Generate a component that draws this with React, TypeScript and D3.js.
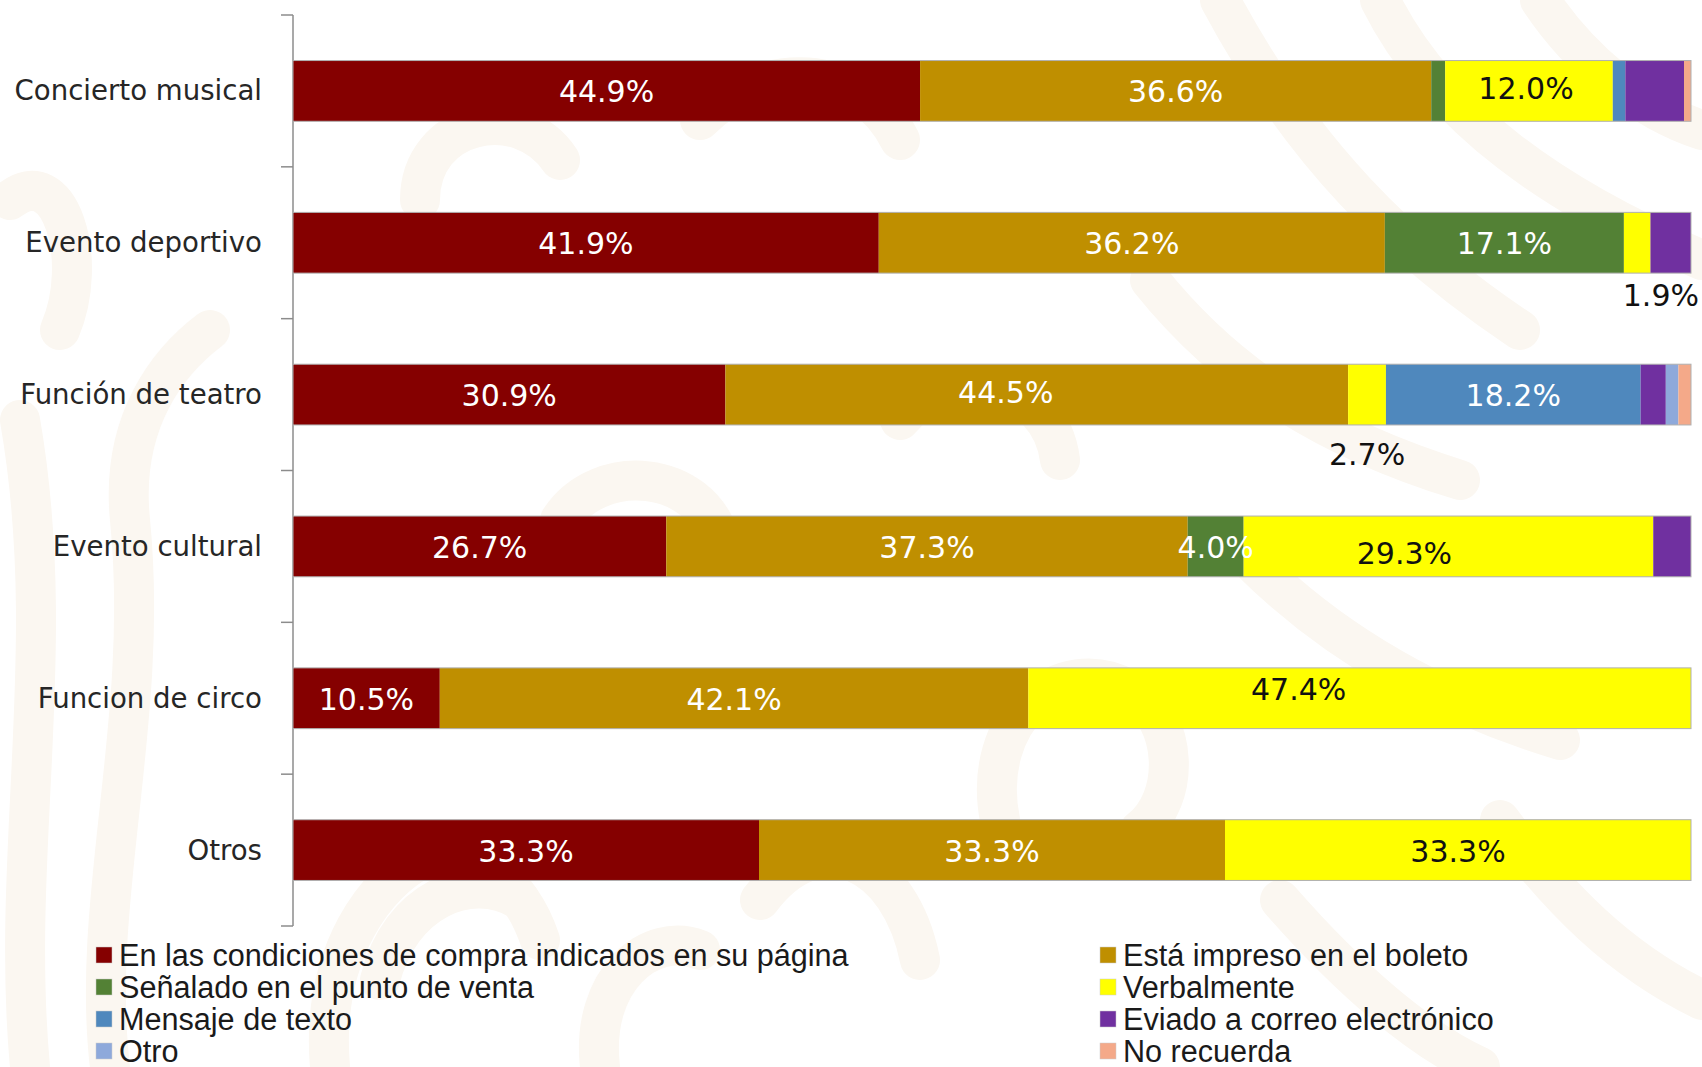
import React from 'react';
import * as d3 from 'd3';

const categories = [
  'Concierto musical',
  'Evento deportivo',
  'Función de teatro',
  'Evento cultural',
  'Funcion de circo',
  'Otros',
];
const seriesNames = [
  'En las condiciones de compra indicados en su página',
  'Está impreso en el boleto',
  'Señalado en el punto de venta',
  'Verbalmente',
  'Mensaje de texto',
  'Eviado a correo electrónico',
  'Otro',
  'No recuerda',
];
const seriesColors = ['#850000', '#BF8F00', '#538135', '#FFFF00', '#4F88BD', '#7030A0', '#8EA9DB', '#F4A989'];
const condiciones = [44.9, 41.9, 30.9, 26.7, 10.5, 33.3];
const impreso = [36.6, 36.2, 44.5, 37.3, 42.1, 33.3];
const puntoVenta = [1.0, 17.1, 0, 4.0, 0, 0];
const verbalmente = [12.0, 1.9, 2.7, 29.3, 47.4, 33.3];
const mensaje = [0.9, 0, 18.2, 0, 0, 0];
const correo = [4.2, 2.9, 1.8, 2.7, 0, 0];
const otro = [0, 0, 0.9, 0, 0, 0];
const noRecuerda = [0.5, 0, 0.9, 0, 0, 0];
const seriesValues = [condiciones, impreso, puntoVenta, verbalmente, mensaje, correo, otro, noRecuerda];

// which series get an in-bar label for each category
const insideLabelSeries = [[0, 1, 3], [0, 1, 2], [0, 1, 4], [0, 1, 2, 3], [0, 1, 3], [0, 1, 3]];
// labels drawn below the bar: [categoryIndex, seriesIndex]
const outsideLabels = [[1, 3], [2, 3]];
// manually moved labels in the original (category-series -> [dx, dy] px)
const labelNudge: Record<string, [number, number]> = {
  '0-3': [-3, -3],
  '2-1': [-31, -3],
  '3-3': [-44, 6],
  '4-3': [-61, -10],
};

const W = 1702;
const H = 1067;
const plot = { left: 293, right: 1691, top: 15, bottom: 926 };

const watermark = [
  'M 30 1067 C 10 850, 60 650, 20 420',
  'M 110 1067 C 90 900, 150 720, 130 520 C 120 420, 170 360, 210 330',
  'M 330 1067 C 320 950, 380 880, 420 860 C 470 840, 520 880, 540 940',
  'M 380 980 C 400 900, 470 870, 520 900',
  'M 600 1067 C 590 980, 650 930, 700 950',
  'M 760 900 C 820 820, 900 860, 920 960',
  'M 1000 820 C 980 720, 1060 650, 1130 690 C 1180 720, 1180 800, 1140 830',
  'M 1220 0 C 1300 150, 1400 250, 1520 330',
  'M 1380 0 C 1440 120, 1560 200, 1702 260',
  'M 1540 0 C 1580 60, 1640 110, 1702 130',
  'M 1150 280 C 1230 380, 1330 440, 1460 480',
  'M 1250 560 C 1330 640, 1430 700, 1560 740',
  'M 1500 820 C 1560 900, 1620 960, 1702 1000',
  'M 1280 900 C 1350 980, 1420 1040, 1480 1067',
  'M 700 120 C 760 60, 860 60, 900 140',
  'M 420 200 C 420 120, 520 100, 560 160',
  'M 10 200 C 60 160, 90 260, 60 330',
  'M 900 420 C 950 360, 1050 380, 1060 460',
  'M 560 520 C 600 460, 700 470, 720 540',
];

export default function App() {
  const rows = categories.map((c, i) => {
    const r: any = { cat: c };
    seriesNames.forEach((s, j) => (r[s] = seriesValues[j][i]));
    return r;
  });
  const stack = d3.stack<any>().keys(seriesNames).offset(d3.stackOffsetExpand)(rows);
  const x = d3.scaleLinear().domain([0, 1]).range([plot.left, plot.right]);
  const y = d3.scaleBand<string>().domain(categories).range([plot.top, plot.bottom]).paddingInner(0.6).paddingOuter(0.3);
  const step = y.step();
  const bw = y.bandwidth();
  const fmt = (v: number) => d3.format('.1f')(v) + '%';
  const labelFont = '"DejaVu Sans", Verdana, sans-serif';
  const legendFont = '"Liberation Sans Narrow", "Liberation Sans", Arial, sans-serif';
  const boundaries = d3.range(categories.length + 1).map((i) => plot.top + i * step);

  return (
    <svg width={W} height={H} style={{ position: 'absolute', left: 0, top: 0, background: '#fff' }}>
      <rect x={0} y={0} width={W} height={H} fill="#ffffff" />
      <g fill="none" stroke="#fbf7f1" strokeWidth={40} strokeLinecap="round">
        {watermark.map((d, i) => (
          <path key={i} d={d} />
        ))}
      </g>
      {/* axis */}
      <line x1={plot.left} x2={plot.left} y1={plot.top} y2={plot.bottom} stroke="#8c8c8c" strokeWidth={1.5} />
      {boundaries.map((b, i) => (
        <line key={i} x1={plot.left - 12} x2={plot.left} y1={b} y2={b} stroke="#8c8c8c" strokeWidth={1.5} />
      ))}
      {categories.map((c) => (
        <text
          key={c}
          x={plot.left - 31}
          y={(y(c) as number) + bw / 2}
          textAnchor="end"
          dominantBaseline="central"
          fontFamily={labelFont}
          fontSize={27.6}
          fill="#262626"
        >
          {c}
        </text>
      ))}
      {/* bars */}
      {stack.map((layer, j) => (
        <g key={layer.key} fill={seriesColors[j]}>
          {layer.map((d, i) =>
            d[1] - d[0] > 0 ? (
              <rect key={i} x={x(d[0])} y={y(categories[i])} width={x(d[1]) - x(d[0])} height={bw} />
            ) : null
          )}
        </g>
      ))}
      {categories.map((c) => (
        <rect key={'o' + c} x={x(0)} y={y(c)} width={x(1) - x(0)} height={bw} fill="none" stroke="#b0b0b0" strokeWidth={1} />
      ))}
      {/* inside labels */}
      {insideLabelSeries.map((list, i) =>
        list.map((j) => {
          const d = stack[j][i];
          const [dx, dy] = labelNudge[i + '-' + j] || [0, 0];
          return (
            <text
              key={i + '-' + j}
              x={x((d[0] + d[1]) / 2) + dx}
              y={(y(categories[i]) as number) + bw / 2 + 1 + dy}
              textAnchor="middle"
              dominantBaseline="central"
              fontFamily={labelFont}
              fontSize={30}
              fill={j === 3 ? '#111' : '#fff'}
            >
              {fmt(seriesValues[j][i])}
            </text>
          );
        })
      )}
      {outsideLabels.map(([i, j]) => {
        const d = stack[j][i];
        const cx = x((d[0] + d[1]) / 2);
        const lim = x(1) + 8;
        const nearEdge = cx + 80 > lim;
        return (
          <text
            key={'out' + i}
            x={nearEdge ? lim : cx}
            y={(y(categories[i]) as number) + bw + (nearEdge ? 22 : 30)}
            textAnchor={nearEdge ? 'end' : 'middle'}
            dominantBaseline="central"
            fontFamily={labelFont}
            fontSize={30}
            fill="#111"
          >
            {fmt(seriesValues[j][i])}
          </text>
        );
      })}
      {/* legend */}
      {seriesNames.map((s, k) => {
        const col = k % 2;
        const row = Math.floor(k / 2);
        const lx = col === 0 ? 96 : 1100;
        const ly = 955 + row * 32;
        return (
          <g key={s}>
            <rect x={lx} y={ly - 8} width={16} height={16} fill={seriesColors[k]} stroke="#ccc" strokeWidth={0.5} />
            <text x={lx + 23} y={ly} dominantBaseline="central" fontFamily={legendFont} fontSize={30.6} fill="#1a1a1a">
              {s}
            </text>
          </g>
        );
      })}
    </svg>
  );
}
